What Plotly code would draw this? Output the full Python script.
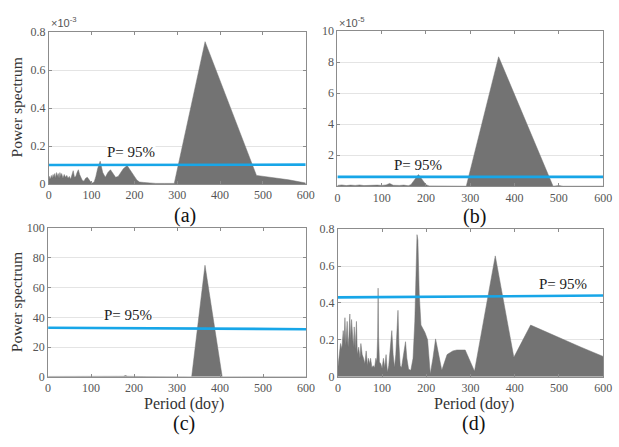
import plotly.graph_objects as go

# ---- Data -------------------------------------------------------------
# Period axis ticks (days)
period_ticks = [0, 100, 200, 300, 400, 500, 600]

# (a) power spectrum, in units of 1e-3
a_period = [0, 2, 4, 6, 8, 10, 12, 14, 16, 18, 20, 22, 24, 26, 28, 30, 33, 36, 39, 42,
            45, 48, 51, 54, 57, 60, 63, 66, 69, 72, 75, 78, 82, 86, 90, 94, 98, 102, 106,
            110, 114, 120, 126, 132, 138, 144, 150, 156, 162, 168, 174, 183, 192, 200,
            206, 212, 222, 235, 250, 270, 293, 365, 485, 560, 600]
a_power = [0.02, 0.04, 0.025, 0.045, 0.03, 0.05, 0.035, 0.055, 0.03, 0.06, 0.04, 0.055,
           0.03, 0.06, 0.04, 0.055, 0.03, 0.05, 0.035, 0.045, 0.03, 0.04, 0.025, 0.055,
           0.07, 0.035, 0.04, 0.06, 0.075, 0.05, 0.035, 0.02, 0.015, 0.03, 0.035, 0.02,
           0.01, 0.005, 0.01, 0.04, 0.08, 0.12, 0.06, 0.035, 0.06, 0.075, 0.055, 0.035,
           0.04, 0.06, 0.08, 0.097, 0.07, 0.04, 0.02, 0.01, 0.008, 0.004, 0.003, 0.003,
           0.003, 0.75, 0.045, 0.022, 0.005]
a_p95 = [0.1, 0.102]

# (b) power spectrum, in units of 1e-5
b_period = [0, 10, 20, 30, 40, 50, 60, 70, 80, 90, 100, 110, 118, 126, 140, 150, 160,
            166, 183, 200, 207, 220, 240, 260, 291, 364, 487, 500, 510, 530, 600]
b_power = [0.05, 0.08, 0.04, 0.07, 0.05, 0.08, 0.04, 0.06, 0.04, 0.07, 0.05, 0.08, 0.18,
           0.06, 0.05, 0.07, 0.03, 0.1, 0.75, 0.1, 0.02, 0.01, 0.005, 0.003, 0.0, 8.35,
           0.0, 0.04, 0.0, 0.0, 0.0]
b_p95 = [0.6, 0.6]

# (c) power spectrum
c_period = [0, 50, 100, 150, 175, 180, 185, 230, 300, 334, 365, 405, 450, 600]
c_power = [0.2, 0.1, 0.1, 0.2, 0.3, 0.8, 0.3, 0.1, 0.05, 0.0, 75.0, 0.0, 0.05, 0.02]
c_p95 = [33.0, 32.0]

# (d) power spectrum
d_period = [0, 3, 6, 9, 12, 14, 16, 18, 21, 23, 25, 27, 29, 31, 33, 35, 37, 39, 42, 44,
            47, 50, 52, 55, 58, 61, 64, 67, 69, 72, 74, 77, 80, 83, 86, 88, 90, 91, 92,
            94, 97, 100, 103, 106, 109, 112, 115, 118, 122, 125, 128, 131, 133, 136, 138,
            141, 144, 147, 150, 153, 156, 160, 165, 170, 174, 177, 179, 181, 184, 188,
            192, 197, 203, 209, 215, 221, 228, 235, 247, 260, 269, 288, 309, 356, 398,
            436, 550, 600]
d_power = [0.05, 0.14, 0.18, 0.15, 0.25, 0.19, 0.32, 0.17, 0.30, 0.16, 0.22, 0.34, 0.20,
           0.31, 0.22, 0.16, 0.27, 0.15, 0.30, 0.12, 0.16, 0.10, 0.18, 0.12, 0.10, 0.07,
           0.14, 0.06, 0.10, 0.07, 0.10, 0.05, 0.06, 0.05, 0.10, 0.08, 0.22, 0.48, 0.22,
           0.08, 0.07, 0.045, 0.10, 0.05, 0.12, 0.025, 0.06, 0.14, 0.25, 0.12, 0.05, 0.12,
           0.26, 0.36, 0.18, 0.06, 0.05, 0.10, 0.14, 0.19, 0.10, 0.04, 0.035, 0.10, 0.30,
           0.60, 0.77, 0.74, 0.45, 0.28, 0.26, 0.24, 0.20, 0.015, 0.10, 0.205, 0.12, 0.035,
           0.12, 0.14, 0.145, 0.145, 0.03, 0.655, 0.105, 0.28, 0.16, 0.11]
d_p95 = [0.43, 0.44]

# ---- Styling ----------------------------------------------------------
FILL = "#737373"
BLUE = "#17a6e8"
FRAME = "#8c8c8c"
GRID = "#e4e4e4"
SERIF = "Liberation Serif"
W, H = 619, 447

# panel boxes in pixels: (left, right, top, bottom)
boxes = {
    "a": (46.7, 308.7, 26.0, 182.7),
    "b": (341.0, 612.0, 25.0, 185.0),
    "c": (46.0, 309.0, 228.3, 381.7),
    "d": (341.5, 612.0, 229.3, 381.7),
}

panels = [
    ("a", a_period, a_power, a_p95, [0, 0.8], [0, 0.2, 0.4, 0.6, 0.8], ["0", "0.2", "0.4", "0.6", "0.8"], (191, 0.167)),
    ("b", b_period, b_power, b_p95, [0, 10], [2, 4, 6, 8, 10], ["2", "4", "6", "8", "10"], (182, 1.4)),
    ("c", c_period, c_power, c_p95, [0, 100], [0, 20, 40, 60, 80, 100], ["0", "20", "40", "60", "80", "100"], (185, 41.5)),
    ("d", d_period, d_power, d_p95, [0, 0.8], [0, 0.2, 0.4, 0.6, 0.8], ["0", "0.2", "0.4", "0.6", "0.8"], (509, 0.5)),
]

fig = go.Figure()
layout = dict(
    width=W, height=H, margin=dict(l=0, r=0, t=0, b=0),
    paper_bgcolor="white", plot_bgcolor="white", showlegend=False,
)
annotations = []

for i, (key, px, py, p95, yr, yt, ytl, txt) in enumerate(panels, start=1):
    sx = "" if i == 1 else str(i)
    xa, ya = "x" + sx, "y" + sx
    l, r, t, b = boxes[key]
    fig.add_trace(go.Scatter(
        x=px, y=py, mode="lines", fill="tozeroy", fillcolor=FILL,
        line=dict(color=FILL, width=0.5), xaxis=xa, yaxis=ya, hoverinfo="skip",
    ))
    fig.add_trace(go.Scatter(
        x=[0, 600], y=p95, mode="lines", line=dict(color=BLUE, width=2.6),
        xaxis=xa, yaxis=ya, hoverinfo="skip",
    ))
    layout["xaxis" + sx] = dict(
        domain=[l / W, r / W], range=[0, 600], anchor=ya,
        tickvals=period_ticks, ticktext=[str(v) for v in period_ticks],
        showgrid=False, zeroline=False, showline=True, mirror="ticks",
        linecolor=FRAME, linewidth=1, ticks="inside", ticklen=3, tickcolor=FRAME,
        tickfont=dict(family=SERIF, size=12, color="#555555"),
    )
    layout["yaxis" + sx] = dict(
        domain=[1 - b / H, 1 - t / H], range=yr, anchor=xa,
        tickvals=yt, ticktext=ytl,
        showgrid=True, gridcolor=GRID, gridwidth=1, zeroline=False,
        showline=True, mirror="ticks", linecolor=FRAME, linewidth=1,
        ticks="inside", ticklen=3, tickcolor=FRAME,
        tickfont=dict(family=SERIF, size=12, color="#555555"),
    )
    annotations.append(dict(
        x=txt[0], y=txt[1], xref=xa, yref=ya, text="P= 95%", showarrow=False,
        xanchor="center", yanchor="middle",
        font=dict(family=SERIF, size=15, color="#222222"),
        bgcolor="white", borderpad=0,
    ))

# exponent labels above the top panels
for key, exp in (("a", "-3"), ("b", "-5")):
    l, r, t, b = boxes[key]
    annotations.append(dict(
        x=l / W, y=1 - 15 / H, xref="paper", yref="paper", xanchor="left", yanchor="middle",
        text="×10<sup>" + exp + "</sup>", showarrow=False,
        font=dict(family="Liberation Sans", size=11, color="#555555"),
    ))

# y-axis titles
for key, yc in (("a", 104), ("c", 305)):
    annotations.append(dict(
        x=14 / W, y=1 - yc / H, xref="paper", yref="paper", textangle=-90,
        xanchor="center", yanchor="middle",
        text="Power spectrum", showarrow=False,
        font=dict(family=SERIF, size=15.5, color="#333333"),
    ))

# x-axis titles on the bottom row
for xc in (185, 480):
    annotations.append(dict(
        x=xc / W, y=1 - 410 / H, xref="paper", yref="paper",
        xanchor="center", yanchor="middle",
        text="Period (doy)", showarrow=False,
        font=dict(family=SERIF, size=16, color="#333333"),
    ))

# panel letters
for lab, xc, yc in (("(a)", 186, 215), ("(b)", 481, 216), ("(c)", 185, 430), ("(d)", 480, 430)):
    annotations.append(dict(
        x=xc / W, y=1 - yc / H, xref="paper", yref="paper",
        xanchor="center", yanchor="middle",
        text=lab, showarrow=False,
        font=dict(family=SERIF, size=20, color="#111111"),
    ))

layout["annotations"] = annotations
fig.update_layout(**layout)
fig.write_html("out.html")
